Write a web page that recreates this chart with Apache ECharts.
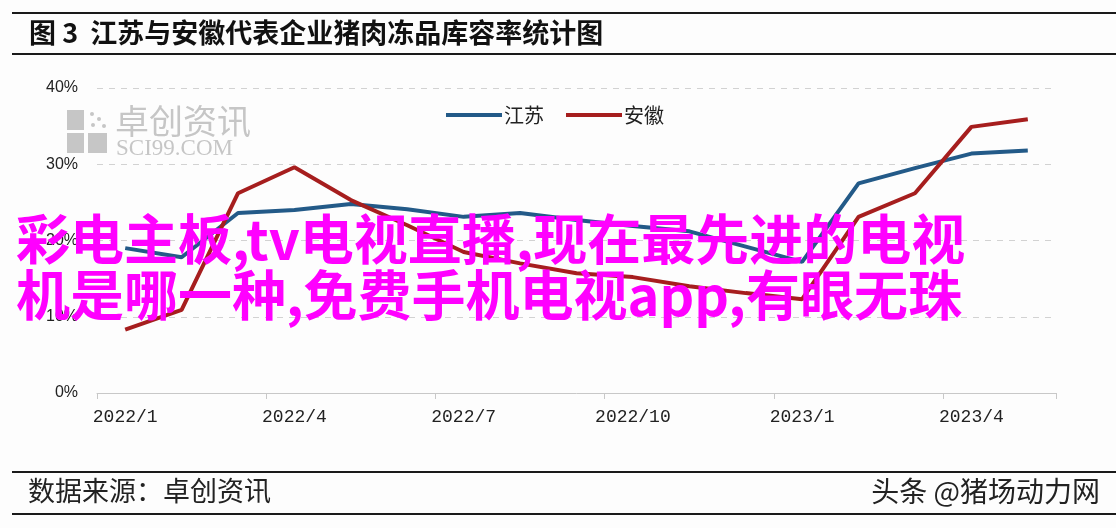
<!DOCTYPE html>
<html>
<head>
<meta charset="utf-8">
<script src="https://cdn.jsdelivr.net/npm/echarts@6/dist/echarts.min.js"></script>
<style>
html,body{margin:0;padding:0;background:#fdfdfd;}
#chart{width:1116px;height:528px;}
</style>
</head>
<body>
<div id="chart"></div>
<script>
const categories = ['2022/1','2022/2','2022/3','2022/4','2022/5','2022/6','2022/7','2022/8','2022/9','2022/10','2022/11','2022/12','2023/1','2023/2','2023/3','2023/4','2023/5'];
const jiangsu = [19.0, 17.8, 23.6, 24.0, 24.8, 24.1, 23.1, 23.6, 22.7, 21.9, 21.2, 19.2, 17.2, 27.5, 29.5, 31.4, 31.8];
const anhui = [8.3, 10.9, 26.2, 29.6, 25.3, 22.0, 18.5, 17.0, 15.7, 15.2, 14.0, 13.1, 12.3, 23.1, 26.2, 34.9, 35.9];
const seriesNames = ['江苏', '安徽'];
const titleText = '图 3  江苏与安徽代表企业猪肉冻品库容率统计图';
const sourceText = '数据来源：卓创资讯';
const creditText = '头条 @猪场动力网';
const overlayText = '彩电主板,tv电视直播,现在最先进的电视\n机是哪一种,免费手机电视app,有眼无珠';

const chart = echarts.init(document.getElementById('chart'));
const cjk = "'Noto Sans CJK SC', sans-serif";
const logoGray = '#c6c6c6';

chart.setOption({
  backgroundColor: '#fdfdfd',
  animation: false,
  grid: { left: 97, right: 60, top: 88, bottom: 135 },
  legend: {
    left: 441, top: 100,
    itemWidth: 56, itemHeight: 4, itemGap: 22,
    icon: 'rect',
    data: seriesNames,
    textStyle: { fontSize: 20, color: '#222', fontFamily: cjk, padding: [0,0,0,-3] }
  },
  xAxis: {
    type: 'category',
    data: categories,
    boundaryGap: true,
    axisLine: { lineStyle: { color: '#c8c8c8', width: 1 } },
    axisTick: { show: true, interval: 2, length: 6, lineStyle: { color: '#c8c8c8' } },
    axisLabel: { interval: 2, fontFamily: "'Liberation Mono', monospace", fontSize: 18, color: '#222', margin: 15 }
  },
  yAxis: {
    type: 'value', min: 0, max: 40, interval: 10,
    axisLine: { show: false }, axisTick: { show: false },
    splitLine: { lineStyle: { color: '#d2d2d2', type: [6, 6], width: 1 } },
    axisLabel: { formatter: '{value}%', fontFamily: "'Liberation Sans', sans-serif", fontSize: 16, color: '#222', margin: 19 }
  },
  series: [
    { name: seriesNames[0], type: 'line', data: jiangsu, symbol: 'none', z: 3,
      lineStyle: { color: '#235a88', width: 4 }, itemStyle: { color: '#235a88' } },
    { name: seriesNames[1], type: 'line', data: anhui, symbol: 'none', z: 4,
      lineStyle: { color: '#a61e1e', width: 4 }, itemStyle: { color: '#a61e1e' } }
  ],
  graphic: [
    { type: 'line', shape: { x1: 12, y1: 13, x2: 1116, y2: 13 }, style: { stroke: '#1a1a1a', lineWidth: 2 } },
    { type: 'line', shape: { x1: 12, y1: 54, x2: 1116, y2: 54 }, style: { stroke: '#1a1a1a', lineWidth: 2 } },
    { type: 'text', left: 29, top: 19, style: { text: titleText, font: "bold 27px 'Noto Sans CJK SC', sans-serif", fill: '#111' } },
    { type: 'line', shape: { x1: 12, y1: 472, x2: 1116, y2: 472 }, style: { stroke: '#1a1a1a', lineWidth: 2 } },
    { type: 'line', shape: { x1: 12, y1: 514, x2: 1116, y2: 514 }, style: { stroke: '#1a1a1a', lineWidth: 2 } },
    { type: 'text', left: 28, top: 477, style: { text: sourceText, font: "27px 'Noto Sans CJK SC', sans-serif", fill: '#222' } },
    { type: 'text', right: 16, top: 477, style: { text: creditText, font: "28px 'Noto Sans CJK SC', sans-serif", fill: '#222' } },
    // watermark logo
    { type: 'rect', shape: { x: 67, y: 110, width: 17, height: 20 }, style: { fill: logoGray } },
    { type: 'rect', shape: { x: 67, y: 133, width: 17, height: 20 }, style: { fill: logoGray } },
    { type: 'rect', shape: { x: 88, y: 133, width: 19, height: 20 }, style: { fill: logoGray } },
    { type: 'circle', shape: { cx: 92, cy: 114, r: 2 }, style: { fill: logoGray } },
    { type: 'circle', shape: { cx: 99, cy: 119, r: 2 }, style: { fill: logoGray } },
    { type: 'circle', shape: { cx: 93, cy: 125, r: 2 }, style: { fill: logoGray } },
    { type: 'circle', shape: { cx: 104, cy: 126, r: 2 }, style: { fill: logoGray } },
    { type: 'text', left: 115, top: 104, style: { text: '卓创资讯', font: "34px 'Noto Sans CJK SC', sans-serif", fill: logoGray } },
    { type: 'text', left: 116, top: 137, style: { text: 'SCI99.COM', font: "23px 'Liberation Serif', serif", fill: logoGray } },
    // overlay text
    { type: 'text', left: 16, top: 211, z: 100, style: { text: overlayText, font: "bold 54px 'Noto Sans CJK SC', sans-serif", fill: '#ff00ff', lineHeight: 56 } }
  ]
});
</script>
</body>
</html>
